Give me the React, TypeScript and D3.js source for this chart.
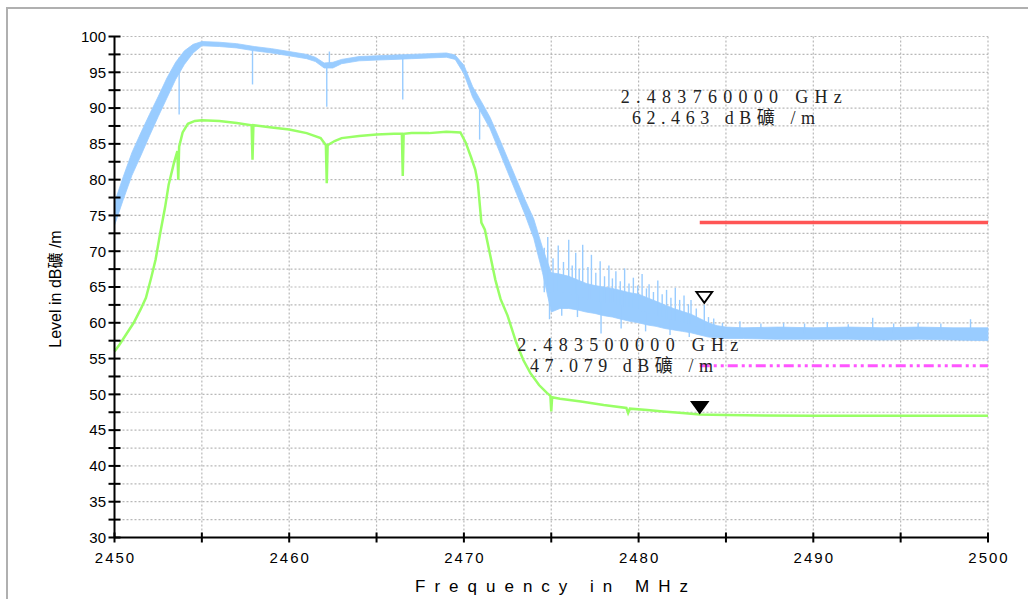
import React from "react";
import * as d3 from "d3";

// ---------- data ----------
const xTickLabels = [2450, 2460, 2470, 2480, 2490, 2500];
const yTickLabels = [30, 35, 40, 45, 50, 55, 60, 65, 70, 75, 80, 85, 90, 95, 100];

// Peak trace (blue) – envelope
const blueFreq = [2450, 2450.5, 2451, 2451.5, 2452, 2452.5, 2453, 2453.5, 2454, 2454.5, 2455, 2456, 2457, 2458, 2459, 2460, 2461, 2461.5, 2462, 2462.5, 2463, 2464, 2465, 2466, 2467, 2468, 2469, 2469.5, 2470, 2470.5, 2471, 2471.5, 2472, 2472.5, 2473, 2473.5, 2474, 2474.5, 2475, 2475.5, 2476, 2476.5, 2477, 2477.5, 2478, 2478.5, 2479, 2479.5, 2480, 2480.5, 2481, 2481.5, 2482, 2482.5, 2483, 2483.5, 2484, 2484.5, 2485, 2486, 2488, 2490, 2492, 2494, 2496, 2498, 2500];
const blueLo = [73.6, 77.2, 80.6, 83.3, 86.1, 88.8, 91.4, 94.0, 96.1, 97.7, 98.7, 98.6, 98.4, 98.0, 97.7, 97.3, 96.9, 96.5, 95.6, 95.6, 96.2, 96.6, 96.7, 96.8, 96.9, 97.0, 97.1, 96.8, 94.8, 91.5, 89.3, 87.1, 84.1, 81.1, 78.1, 75.1, 71.8, 67.0, 61.5, 62.0, 62.0, 61.8, 61.5, 61.3, 61.0, 60.8, 60.5, 60.2, 60.0, 59.7, 59.5, 59.2, 59.0, 58.8, 58.6, 58.3, 58.0, 57.9, 57.8, 57.8, 57.7, 57.7, 57.7, 57.6, 57.7, 57.6, 57.5];
const blueHi = [76.8, 80.4, 83.8, 86.5, 89.1, 91.6, 94.2, 96.4, 98.0, 98.9, 99.3, 99.2, 99.0, 98.6, 98.3, 97.9, 97.5, 97.1, 96.3, 96.4, 96.8, 97.2, 97.3, 97.4, 97.5, 97.6, 97.7, 97.4, 96.0, 93.0, 90.9, 88.7, 85.9, 83.0, 80.1, 77.2, 74.5, 70.5, 67.0, 66.8, 66.5, 66.0, 65.5, 65.2, 65.0, 64.8, 64.5, 64.2, 64.0, 63.5, 63.0, 62.5, 62.0, 61.6, 61.2, 60.6, 60.0, 59.6, 59.4, 59.3, 59.4, 59.3, 59.4, 59.3, 59.4, 59.3, 59.3];

// Spikes on the peak trace (frequency, tip level)
const blueSpikeFreq = [2453.7, 2457.9, 2462.15, 2462.3, 2466.5, 2470.9,
  2474.6, 2474.8, 2474.9, 2475.1, 2475.4, 2475.6, 2475.7, 2476.0, 2476.2, 2476.4, 2476.5, 2476.6, 2476.8, 2477.1, 2477.3, 2477.55, 2477.8, 2477.85,
  2478.05, 2478.3, 2478.5, 2478.7, 2478.95, 2479.0, 2479.2, 2479.45, 2479.7, 2479.95, 2480.2, 2480.4, 2480.45, 2480.6, 2480.85, 2481.1, 2481.35,
  2481.6, 2481.8, 2481.85, 2482.1, 2482.35, 2482.6, 2482.85, 2482.9, 2483.0, 2483.3, 2483.76, 2484.0, 2484.3,
  2484.8, 2485.8, 2487.0, 2488.3, 2489.5, 2490.8, 2492.0, 2493.4, 2494.6, 2496.0, 2497.3, 2499.0];
const blueSpikeLevel = [89.1, 93.3, 90.2, 97.9, 91.2, 85.6,
  70.5, 72.0, 60.5, 69.0, 70.8, 61.0, 68.5, 71.6, 68.0, 69.8, 60.8, 67.5, 70.9, 67.8, 69.5, 67.0, 68.6, 58.5,
  66.5, 68.0, 66.2, 67.2, 65.8, 59.2, 67.6, 65.5, 66.3, 65.2, 66.8, 58.8, 64.8, 65.4, 64.3, 65.9, 64.0,
  64.6, 58.3, 63.5, 64.9, 63.2, 63.8, 62.6, 58.0, 63.2, 62.0, 62.5, 60.8, 60.6,
  60.0, 60.2, 59.9, 60.0, 59.9, 60.1, 59.8, 60.7, 59.9, 60.0, 59.9, 60.5];

// Average trace (green)
const greenFreq = [2450, 2450.3, 2450.7, 2451.1, 2451.5, 2451.8, 2452.1, 2452.35, 2452.6, 2452.9, 2453.1, 2453.4, 2453.6, 2453.65, 2453.7, 2453.9, 2454.2, 2454.6, 2455, 2456, 2457, 2457.85, 2457.9, 2457.95, 2459, 2460, 2461, 2461.8, 2462.1, 2462.15, 2462.2, 2462.6, 2463, 2464, 2465, 2466, 2466.45, 2466.5, 2466.55, 2467, 2468, 2469, 2469.8, 2470.1, 2470.4, 2470.65, 2470.8, 2471.0, 2471.2, 2471.5, 2471.8, 2472.1, 2472.5, 2473, 2473.4, 2473.8, 2474.3, 2474.75, 2474.95, 2475.0, 2475.05, 2475.5, 2476.7, 2478, 2479.3, 2479.4, 2479.5, 2480.5, 2481.4, 2482.5, 2483.5, 2485, 2490, 2495, 2500];
const greenLevel = [56.0, 57.0, 58.5, 60.0, 61.9, 63.5, 66.3, 68.8, 72.3, 76.2, 79.3, 82.3, 84.0, 80.0, 84.6, 86.6, 87.8, 88.2, 88.3, 88.2, 87.9, 87.6, 82.8, 87.6, 87.3, 87.0, 86.5, 85.8, 84.8, 79.5, 84.8, 85.4, 85.8, 86.1, 86.3, 86.4, 86.4, 80.5, 86.4, 86.5, 86.5, 86.7, 86.6, 85.2, 83.2, 81.4, 79.5, 74.0, 73.0, 69.5, 66.0, 63.3, 61.0, 57.2, 54.8, 53.0, 51.3, 50.2, 49.8, 47.6, 49.6, 49.4, 49.0, 48.5, 48.1, 47.4, 48.0, 47.8, 47.6, 47.4, 47.2, 47.1, 47.0, 47.0, 47.0];

// Limit lines
const limitStart = 2483.5;
const limitEnd = 2500;
const peakLimit = 74;
const avgLimit = 54;

// Markers
const markerFreq = [2483.76, 2483.5];
const markerLevel = [62.463, 47.079];
const markerFilled = [false, true];
const markerFreqText = ["2.483760000 GHz", "2.483500000 GHz"];
const markerLevelText = ["62.463 dB礦 /m", "47.079 dB礦 /m"];

// ---------- chart ----------
const W = 1028;
const H = 599;

export default function App() {
  const x = d3.scaleLinear().domain([2450, 2500]).range([114.5, 988]);
  const y = d3.scaleLinear().domain([30, 100]).range([537.5, 36.5]);

  const xGrid = d3.range(2455, 2500.01, 5);
  const yGrid = d3.range(32.5, 100.01, 2.5);
  const xTicks = d3.range(2450, 2500.01, 5);
  const yTicks = d3.range(30, 100.01, 2.5);

  const band = blueFreq.map((f, i) => ({ f, lo: blueLo[i], hi: blueHi[i] }));
  const area = d3
    .area<{ f: number; lo: number; hi: number }>()
    .x((d) => x(d.f))
    .y0((d) => y(d.lo))
    .y1((d) => y(d.hi));

  const centerAt = (f: number) => {
    const i = d3.bisectLeft(blueFreq, f);
    const j = Math.max(0, Math.min(blueFreq.length - 1, i));
    return (blueLo[j] + blueHi[j]) / 2;
  };

  const green = greenFreq.map((f, i) => [f, greenLevel[i]] as [number, number]);
  const line = d3
    .line<[number, number]>()
    .x((d) => x(d[0]))
    .y((d) => y(d[1]));

  const sans = "'Liberation Sans', Arial, 'Noto Sans CJK SC', sans-serif";
  const serif = "'Liberation Serif', 'DejaVu Serif', 'Noto Sans CJK SC', serif";

  const annoPos = [
    { x1: 620.7, y1: 102.5, l1: 221, x2: 632, y2: 124, l2: 183 },
    { x1: 517.3, y1: 350.5, l1: 221, x2: 530, y2: 372, l2: 183 },
  ];

  return (
    <svg
      width={W}
      height={H}
      style={{ position: "absolute", left: 0, top: 0, background: "#fff" }}
    >
      <rect x={0} y={0} width={W} height={H} fill="#fff" />
      <rect x={7} y={8} width={1200} height={800} fill="none" stroke="#b0b0b0" strokeWidth={2} />

      {/* grid */}
      <g stroke="#b8b8b8" strokeWidth={1.2} strokeDasharray="2,2">
        {xGrid.map((v) => (
          <line key={"gx" + v} x1={x(v)} x2={x(v)} y1={y(100)} y2={y(30)} />
        ))}
        {yGrid.map((v) => (
          <line key={"gy" + v} x1={x(2450)} x2={x(2500)} y1={y(v)} y2={y(v)} />
        ))}
      </g>

      {/* peak trace */}
      <path d={area(band) || ""} fill="#99ccff" stroke="#99ccff" strokeWidth={0.8} />
      <g stroke="#99ccff" strokeWidth={1.4}>
        {blueSpikeFreq.map((f, i) => (
          <line
            key={"bs" + i}
            x1={x(f)}
            x2={x(f)}
            y1={y(centerAt(f))}
            y2={y(blueSpikeLevel[i])}
          />
        ))}
      </g>

      {/* average trace */}
      <path d={line(green) || ""} fill="none" stroke="#99ff66" strokeWidth={2.5} />

      {/* limit lines */}
      <line
        x1={x(limitStart)}
        x2={x(limitEnd)}
        y1={y(peakLimit)}
        y2={y(peakLimit)}
        stroke="#ff5555"
        strokeWidth={3.5}
      />
      <line
        x1={x(limitStart)}
        x2={x(limitEnd)}
        y1={y(avgLimit)}
        y2={y(avgLimit)}
        stroke="#ff55ff"
        strokeWidth={3}
        strokeDasharray="10,4,3,4,3,4"
      />

      {/* axes */}
      <g stroke="#000" strokeWidth={2}>
        <line x1={x(2450)} x2={x(2450)} y1={y(100)} y2={y(30)} />
        <line x1={x(2450)} x2={x(2500)} y1={y(30)} y2={y(30)} />
        {yTicks.map((v) => (
          <line key={"ty" + v} x1={x(2450) - 6} x2={x(2450) + 6} y1={y(v)} y2={y(v)} />
        ))}
        {xTicks.map((v) => (
          <line key={"tx" + v} x1={x(v)} x2={x(v)} y1={y(30) - 5} y2={y(30) + 5} />
        ))}
      </g>
      <g fontFamily={sans} fontSize={15} fill="#000">
        {yTickLabels.map((v) => (
          <text key={"ly" + v} x={106} y={y(v) + 5.3} textAnchor="end">
            {v}
          </text>
        ))}
        {xTickLabels.map((v) => (
          <text
            key={"lx" + v}
            x={x(v) + 1}
            y={563}
            textAnchor="middle"
            letterSpacing={2}
          >
            {v}
          </text>
        ))}
      </g>

      {/* axis titles */}
      <text
        x={415}
        y={592}
        fontFamily={sans}
        fontSize={17}
        textLength={273}
        lengthAdjust="spacing"
        fill="#000"
      >
        Frequency in MHz
      </text>
      <text
        transform={`translate(61, 289) rotate(-90)`}
        textAnchor="middle"
        fontFamily={sans}
        fontSize={16}
        fill="#000"
      >
        Level in dB礦 /m
      </text>

      {/* markers */}
      {markerFreq.map((f, i) => {
        const cx = x(f);
        const tip = y(markerLevel[i]) - 2.3;
        const pts = `${cx - 8},${tip - 11} ${cx + 8},${tip - 11} ${cx},${tip}`;
        return (
          <polygon
            key={"m" + i}
            points={pts}
            fill={markerFilled[i] ? "#000" : "none"}
            stroke="#000"
            strokeWidth={1.8}
            strokeLinejoin="miter"
          />
        );
      })}
      {annoPos.map((p, i) => (
        <g key={"a" + i} fontFamily={serif} fontSize={18} fill="#222">
          <text x={p.x1} y={p.y1} textLength={p.l1} lengthAdjust="spacing">
            {markerFreqText[i]}
          </text>
          <text x={p.x2} y={p.y2} textLength={p.l2} lengthAdjust="spacing">
            {markerLevelText[i]}
          </text>
        </g>
      ))}
    </svg>
  );
}
